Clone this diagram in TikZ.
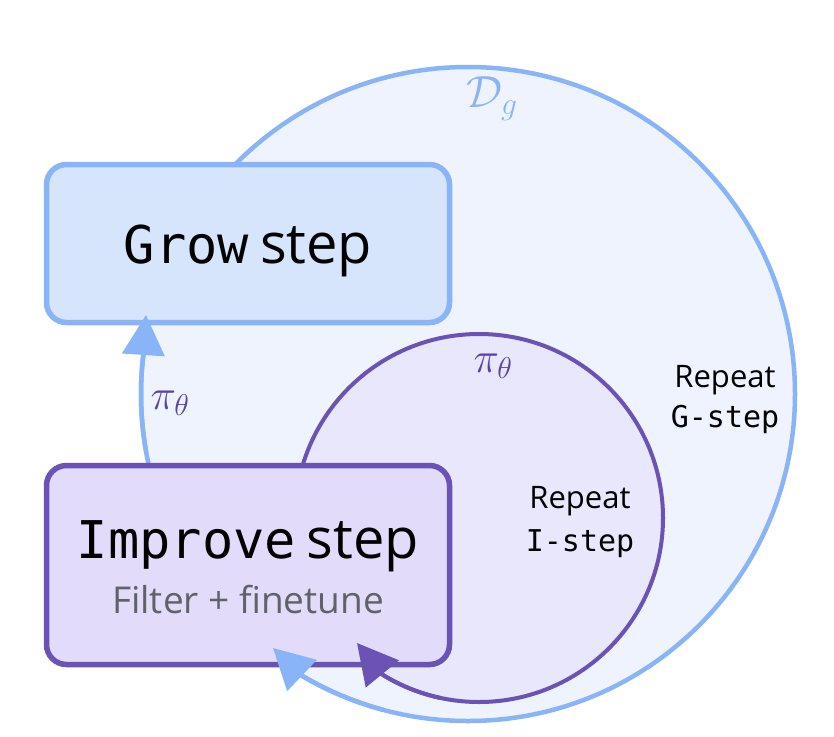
\documentclass[tikz,border=0pt]{standalone}
\usepackage{fix-cm}
\usepackage[no-math]{fontspec}
\setmainfont{Open Sans}
\newfontfamily\monof{DejaVu Sans Mono}
\newfontfamily\sansf{Open Sans}
\usetikzlibrary{arrows.meta}
\definecolor{gblue}{HTML}{8AB4F8}
\definecolor{gfill}{HTML}{EEF3FE}
\definecolor{growfill}{HTML}{D6E4FC}
\definecolor{ppl}{HTML}{6B52B5}
\definecolor{ifill}{HTML}{E9E7FB}
\definecolor{impfill}{HTML}{E2DBFA}
\definecolor{subgray}{HTML}{5F6368}
\definecolor{picol}{HTML}{5B41A8}
\begin{document}
\begin{tikzpicture}[x=1pt,y=1pt,
  loopG/.style={circle, draw=gblue, fill=gfill, line width=4.5pt, minimum size=654pt, inner sep=0pt, outer sep=0pt},
  loopI/.style={circle, draw=ppl, fill=ifill, line width=4pt, minimum size=368pt, inner sep=0pt, outer sep=0pt},
  stepbox/.style={rectangle, rounded corners=20pt, line width=5.5pt, minimum width=403pt, inner sep=0pt, outer sep=0pt},
  growbox/.style={stepbox, draw=gblue, fill=growfill, minimum height=158pt},
  impbox/.style={stepbox, draw=ppl, fill=impfill, minimum height=199pt},
  garr/.style={draw=gblue, line width=4.5pt, -{Triangle[length=40pt,width=42pt]}},
  parr/.style={draw=ppl, line width=4pt, -{Triangle[length=40pt,width=42pt]}},
  lbl/.style={anchor=base},
]
\useasboundingbox (0,0) rectangle (834,-736);
\fill[white] (0,0) rectangle (834,-736);
% loops
\node[loopG] (gloop) at (468,-394) {};
\node[loopI] (iloop) at (479,-518) {};
% boxes
\node[growbox, text height=39pt, text depth=0pt] (grow) at (248,-243.5)
  {{\monof\fontsize{52}{60}\selectfont Grow}\hspace{11pt}{\sansf\fontsize{56}{64}\selectfont step}};
\node[impbox, text height=0pt, text depth=14pt] (improve) at (248,-565)
  {{\monof\fontsize{52}{60}\selectfont Improve}\hspace{11pt}{\sansf\fontsize{56}{64}\selectfont step}};
\node[lbl, text=subgray, font=\sansf\fontsize{37}{42}\selectfont] (sub) at (248,-613) {Filter + finetune};
% arrows
\coordinate (tipL) at (146,-315);
\coordinate (tipB) at (273,-648);
\coordinate (tipP) at (357,-643);
\draw[garr] (gloop.190) arc[start angle=190, end angle=173.2, radius=327pt] -- (tipL);
\draw[garr] (gloop.255) arc[start angle=255, end angle=239.6, radius=327pt] -- (tipB);
\draw[parr] (iloop.258) arc[start angle=258, end angle=238.7, radius=184pt] -- (tipP);
% labels
\node[text=picol] (piL) at (170,-403) {\fontsize{43}{48}\selectfont$\pi_\theta$};
\node[text=picol] (piT) at (493,-366) {\fontsize{43}{48}\selectfont$\pi_\theta$};
\node[text=gblue] (Dg) at (492,-99) {\fontsize{45}{50}\selectfont$\mathcal{D}_g$};
\node[lbl, font=\sansf\fontsize{31}{36}\selectfont] (repG) at (725,-387) {Repeat};
\node[lbl, font=\monof\fontsize{30}{36}\selectfont] (gst) at (725,-427) {G-step};
\node[lbl, font=\sansf\fontsize{31}{36}\selectfont] (repI) at (580,-508) {Repeat};
\node[lbl, font=\monof\fontsize{30}{36}\selectfont] (ist) at (580,-551) {I-step};
\end{tikzpicture}
\end{document}
